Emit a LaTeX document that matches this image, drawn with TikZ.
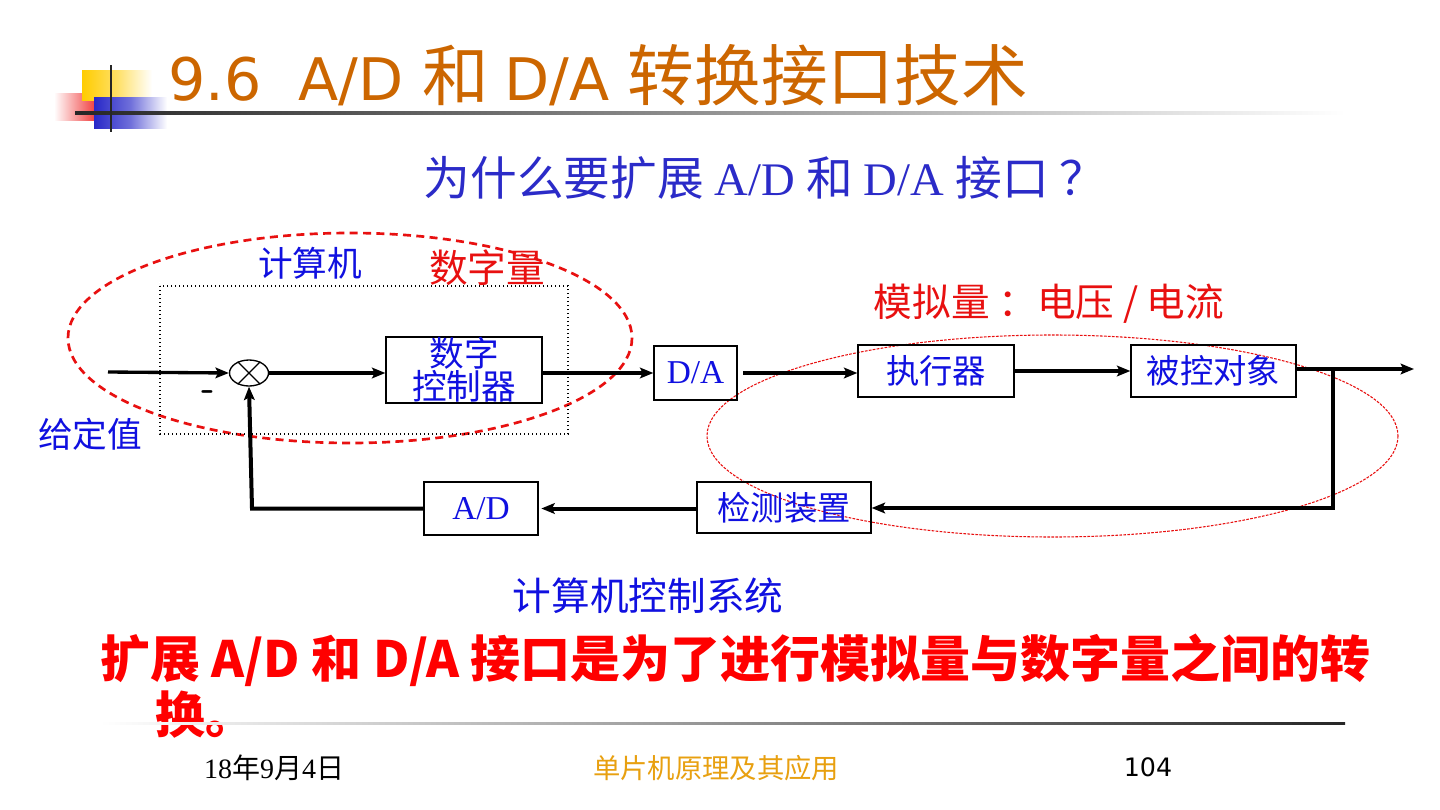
\documentclass[tikz,border=0pt]{standalone}
\usepackage{fontspec}
\setmainfont{Liberation Serif}
\newfontfamily\cjk{Noto Sans CJK SC}
\newfontfamily\tah{DejaVu Sans}
\usetikzlibrary{arrows.meta,shapes.geometric}
\definecolor{ttl}{HTML}{CC6600}
\definecolor{sub}{HTML}{2B2BC8}
\definecolor{bl}{HTML}{1010E0}
\definecolor{rd}{HTML}{E81010}
\definecolor{ft}{HTML}{E8A010}
\definecolor{logoY}{HTML}{FFCC00}
\definecolor{logoYm}{HTML}{FFE066}
\definecolor{logoB}{HTML}{2828C8}
\definecolor{logoBm}{HTML}{7070DA}
\definecolor{logoR}{HTML}{F03C3C}
\begin{document}
\begin{tikzpicture}[x=0.75pt,y=-0.75pt,
  box/.style={draw=black,line width=1pt,inner sep=0pt,font=\cjk\fontsize{25}{27}\selectfont,text=bl},
  flow/.style={line width=3pt,-{Stealth[length=10pt,width=8pt,inset=2pt]}},
  lbl/.style={inner sep=0pt,font=\cjk\fontsize{26}{28}\selectfont},
]
\useasboundingbox (0,0) rectangle (1440,810);
\fill[white] (0,0) rectangle (1440,810);
% logo
\shade[left color=white,right color=logoR] (54,93) rectangle (96,120);
\shade[left color=logoY,right color=white,middle color=logoYm] (82,70) rectangle (152,100);
\shade[left color=logoB,right color=white,middle color=logoBm] (94,97) rectangle (167,128);
\shade[left color=black!85,right color=white] (75,111.5) rectangle (1345,114.5);
\draw[line width=1.6pt,black!85] (111,65) -- (111,132);
% title
\node[anchor=west,inner sep=0pt,text=ttl] (title) at (168,75)
  {\tah\fontsize{44}{48}\selectfont 9.6\ \ A/D \cjk\fontsize{50}{54}\selectfont 和 \tah\fontsize{44}{48}\selectfont D/A \cjk\fontsize{50}{54}\selectfont 转换接口技术};
% subtitle
\node[inner sep=0pt,text=sub] (subt) at (765,178)
  {\cjk\fontsize{35}{38}\selectfont 为什么要扩展 \rmfamily A/D \cjk 和 \rmfamily D/A \cjk 接口 ？};
% ellipses and dotted frame
\draw[rd,line width=2pt,dash pattern=on 6pt off 4pt] (350,338) ellipse (282 and 105);
\draw[black,line width=1pt,dotted] (160,286) rectangle (568,434);
\draw[rd,line width=0.8pt,dash pattern=on 2pt off 1pt] (1052.5,436) ellipse (345.5 and 101);
% labels
\node[lbl,text=bl] (lcomp) at (310,263) {计算机};
\node[lbl,text=rd,font=\cjk\fontsize{29}{31}\selectfont] (ldig) at (487,268) {数字量};
\node[lbl,text=rd,font=\cjk\fontsize{29}{31}\selectfont] (lana) at (1049,304) {模拟量 ：电压 / 电流};
\node[lbl,text=bl] (lset) at (90,434) {给定值};
\node[inner sep=0pt,font=\sffamily\bfseries\fontsize{28}{30}\selectfont] (minus) at (208,396) {-};
% blocks
\node[draw=black,line width=1pt,ellipse,minimum width=39*0.75pt,minimum height=26*0.75pt,inner sep=0pt] (sum) at (249,373) {};
\draw[line width=1pt] (sum.135) -- (sum.-45) (sum.45) -- (sum.-135);
\node[box,minimum width=156*0.75pt,minimum height=66*0.75pt,align=center,font=\cjk\fontsize{26}{22}\selectfont] (dc) at (464,370) {数字\\控制器};
\node[box,minimum width=83*0.75pt,minimum height=54*0.75pt,font=\rmfamily\fontsize{25}{27}\selectfont] (da) at (695.5,373) {D/A};
\node[box,minimum width=156*0.75pt,minimum height=52*0.75pt] (act) at (936,371) {执行器};
\node[box,minimum width=165*0.75pt,minimum height=52*0.75pt] (plant) at (1213.5,371) {被控对象};
\node[box,minimum width=174*0.75pt,minimum height=51*0.75pt] (sens) at (784,507.5) {检测装置};
\node[box,minimum width=114*0.75pt,minimum height=53*0.75pt,font=\rmfamily\fontsize{25}{27}\selectfont] (ad) at (481,508.5) {A/D};
\coordinate (in) at (108,372);
\coordinate (out) at (1414,369);
\coordinate (tap) at (1333,369);
\coordinate (tapb) at (1333,508);
\coordinate (fb) at (252,508.5);
% connectors
\draw[flow,line width=2.5pt] (in) -- (sum.west);
\draw[flow] (sum.east) -- (dc.west |- sum.east);
\draw[flow] (dc.east |- da.west) -- (da.west);
\draw[flow,shorten <=4pt] (da.east) -- (act.west |- da.east);
\draw[flow] (act.east) -- (plant.west);
\draw[flow] (plant.east |- out) -- (out);
\draw[flow] (tap) -- (tapb) -- (sens.east |- tapb);
\draw[flow,shorten >=2pt] (sens.west |- ad.east) -- (ad.east);
\draw[flow] (ad.west) -- (fb) -- (sum.south);
% bottom texts
\node[lbl,text=bl,font=\cjk\fontsize{29}{31}\selectfont] (lsys) at (648,596) {计算机控制系统};
\node[anchor=west,inner sep=0pt,text=red,font=\cjk\bfseries\fontsize{37.5}{40}\selectfont] (concl1) at (100,660)
  {扩展 A/D 和 D/A 接口是为了进行模拟量与数字量之间的转};
\node[anchor=west,inner sep=0pt,text=red,font=\cjk\bfseries\fontsize{37.5}{40}\selectfont] (concl2) at (155,715) {换。};
\shade[left color=white,right color=black!85] (100,722) rectangle (1345,724.5);
\node[inner sep=0pt,font=\rmfamily\fontsize{21}{23}\selectfont] (date) at (274,768) {18\cjk 年\rmfamily 9\cjk 月\rmfamily 4\cjk 日};
\node[inner sep=0pt,text=ft,font=\cjk\fontsize{20.5}{22}\selectfont] (course) at (716,768) {单片机原理及其应用};
\node[inner sep=0pt,font=\tah\fontsize{19}{21}\selectfont] (page) at (1148,767) {104};
\end{tikzpicture}
\end{document}
